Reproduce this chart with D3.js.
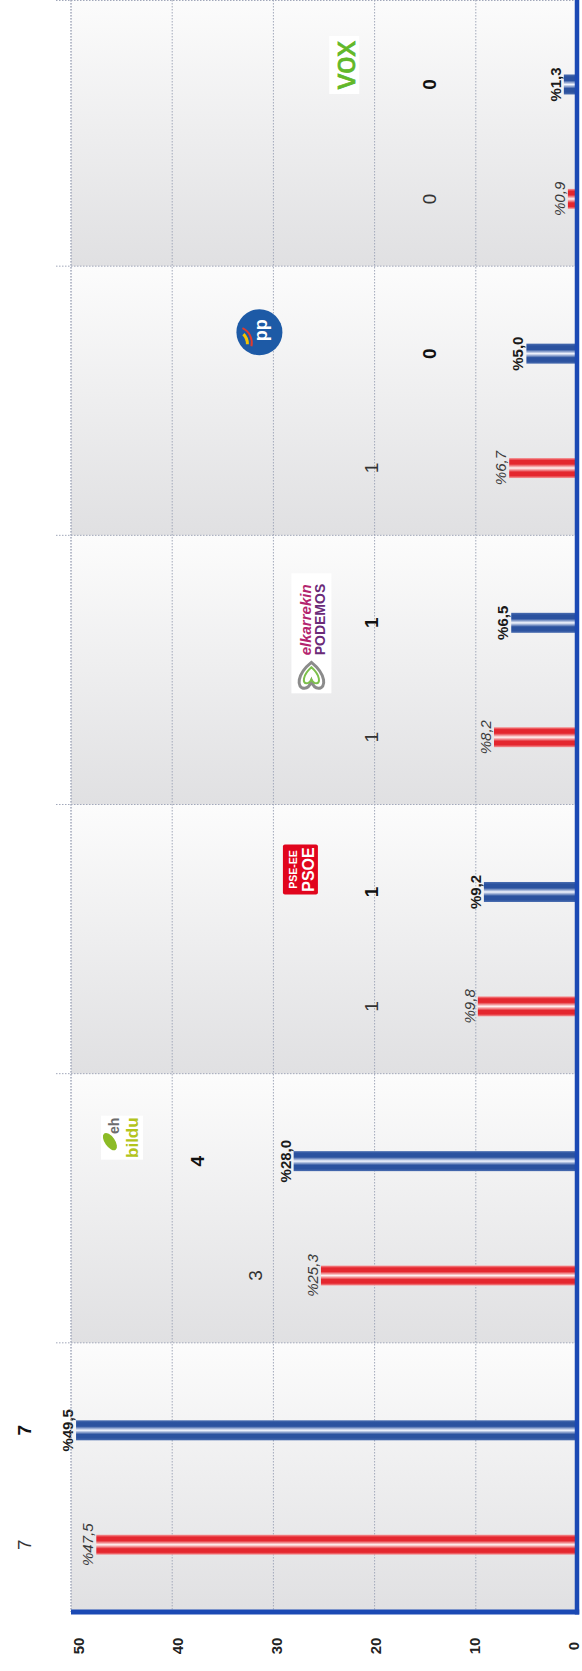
<!DOCTYPE html>
<html>
<head>
<meta charset="utf-8">
<script src="https://cdn.jsdelivr.net/npm/d3@7.9.0/dist/d3.min.js"></script>
<style>
  html, body { margin: 0; padding: 0; background: #fff; }
  svg { display: block; font-family: "Liberation Sans", Arial, sans-serif; }
</style>
</head>
<body>
<svg id="chart" width="582" height="1671"></svg>
<script>
// parties, bottom to top on the page
const parties = ['EAJ-PNV', 'EH Bildu', 'PSE-EE', 'Elkarrekin Podemos', 'PP', 'Vox'];
const years = ['2019', '2023'];
const pct2019 = [47.5, 25.3, 9.8, 8.2, 6.7, 0.9];
const pct2023 = [49.5, 28.0, 9.2, 6.5, 5.0, 1.3];
const seats2019 = [7, 3, 1, 1, 1, 0];
const seats2023 = [7, 4, 1, 1, 0, 0];
const valueTicks = [0, 10, 20, 30, 40, 50];

const W = 582, H = 1671;
const plotLeft = 71, plotRight = 577, plotBottom = 1612, plotTop = -3;

const svg = d3.select('#chart');
const defs = svg.append('defs');

const locale = d3.formatLocale({ decimal: ',', thousands: '.', grouping: [3], currency: ['', ''] });
const fmt = locale.format('.1f');

const x = d3.scaleLinear().domain([0, 50]).range([plotRight, plotLeft]);
const y = d3.scaleBand().domain(parties).range([plotBottom, plotTop]);
const bw = y.bandwidth();
const sub = d3.scalePoint().domain(years).range([bw * 0.75, bw * 0.325]);
// seat labels sit on their own (hidden) scale
const seatX = d3.scaleLinear().domain([0, 7]).range([x(14.6), x(54.6)]);
// tick labels are spread a little inside the grid
const tickX = d3.scaleLinear().domain([0, 50]).range([573, 78]);

const rows = parties.map((p, i) => ({
  party: p,
  values: [
    { year: '2019', pct: pct2019[i], seats: seats2019[i] },
    { year: '2023', pct: pct2023[i], seats: seats2023[i] }
  ]
}));

// gradients
const bandGrad = defs.append('linearGradient').attr('id', 'bandGrad')
  .attr('x1', 0).attr('y1', 0).attr('x2', 0).attr('y2', 1);
bandGrad.append('stop').attr('offset', '0%').attr('stop-color', '#fcfcfc');
bandGrad.append('stop').attr('offset', '100%').attr('stop-color', '#e0e0e2');

function barGradient(id, edge, main, mid) {
  const g = defs.append('linearGradient').attr('id', id)
    .attr('x1', 0).attr('y1', 0).attr('x2', 0).attr('y2', 1);
  [[0, edge], [0.12, main], [0.3, main], [0.5, mid], [0.7, main], [0.88, main], [1, edge]]
    .forEach(([o, c]) => g.append('stop').attr('offset', o).attr('stop-color', c));
}
barGradient('grad2019', '#f59a9c', '#e4262e', '#fff4f4');
barGradient('grad2023', '#4a6db0', '#2b529f', '#f4f7ff');

// band backgrounds
svg.append('g').selectAll('rect')
  .data(parties)
  .join('rect')
  .attr('x', plotLeft)
  .attr('y', d => y(d))
  .attr('width', plotRight - plotLeft)
  .attr('height', bw)
  .attr('fill', 'url(#bandGrad)');

// value grid (dotted)
svg.append('g').selectAll('line')
  .data(valueTicks.filter(t => t > 0))
  .join('line')
  .attr('x1', d => x(d)).attr('x2', d => x(d))
  .attr('y1', plotTop).attr('y2', plotBottom)
  .attr('stroke', '#a2a8ba').attr('stroke-width', 1)
  .attr('stroke-dasharray', '1.5,1.5');

// category separators
svg.append('g').selectAll('line')
  .data(parties)
  .join('line')
  .attr('x1', plotLeft - 15).attr('x2', plotRight)
  .attr('y1', d => Math.max(y(d), 0.5)).attr('y2', d => Math.max(y(d), 0.5))
  .attr('stroke', '#a2a8ba').attr('stroke-width', 1)
  .attr('stroke-dasharray', '1.5,1.5');

// bars
const groups = svg.append('g').selectAll('g')
  .data(rows)
  .join('g')
  .attr('transform', d => `translate(0,${y(d.party)})`);

groups.selectAll('rect')
  .data(d => d.values)
  .join('rect')
  .attr('x', d => x(d.pct))
  .attr('y', d => sub(d.year) - 10)
  .attr('width', d => x(0) - x(d.pct))
  .attr('height', 20)
  .attr('fill', d => `url(#grad${d.year})`);

// percent labels
groups.selectAll('text.pct')
  .data(d => d.values)
  .join('text')
  .attr('class', 'pct')
  .attr('transform', d => `translate(${x(d.pct) - 3},${sub(d.year)}) rotate(-90)`)
  .attr('text-anchor', 'middle')
  .attr('font-size', 15)
  .attr('font-style', d => d.year === '2019' ? 'italic' : 'normal')
  .attr('font-weight', d => d.year === '2019' ? 'normal' : 'bold')
  .attr('fill', d => d.year === '2019' ? '#3a3a3a' : '#1a1a1a')
  .text(d => '%' + fmt(d.pct));

// seat labels
groups.selectAll('text.seat')
  .data(d => d.values)
  .join('text')
  .attr('class', 'seat')
  .attr('transform', d => `translate(${seatX(d.seats)},${sub(d.year)}) rotate(-90)`)
  .attr('text-anchor', 'middle')
  .attr('dominant-baseline', 'central')
  .attr('font-size', 19)
  .attr('font-weight', d => d.year === '2019' ? 'normal' : 'bold')
  .attr('fill', d => d.year === '2019' ? '#333' : '#111')
  .text(d => d.seats);

// logos
function logoVox(g) {
  g.append('rect').attr('x', -29).attr('y', -15).attr('width', 58).attr('height', 30).attr('fill', '#fff');
  g.append('text').attr('text-anchor', 'middle').attr('dominant-baseline', 'central')
    .attr('font-size', 31).attr('font-weight', 'normal').attr('fill', '#62b82a')
    .attr('stroke', '#62b82a').attr('stroke-width', 0.8).text('vox');
}
function logoPP(g) {
  g.append('circle').attr('r', 23).attr('fill', '#1d5aa6');
  g.append('path').attr('d', 'M-12,-12 A14,14 0 0,0 -2,-16').attr('fill', 'none')
    .attr('stroke', '#f4c300').attr('stroke-width', 3);
  g.append('path').attr('d', 'M-14,-8 A16,16 0 0,0 4,-17').attr('fill', 'none')
    .attr('stroke', '#e03a2e').attr('stroke-width', 2);
  g.append('text').attr('x', 2).attr('y', 2).attr('text-anchor', 'middle').attr('dominant-baseline', 'central')
    .attr('font-size', 18).attr('font-weight', 'bold').attr('fill', '#fff').text('pp');
}
function logoPodemos(g) {
  g.append('rect').attr('x', -58).attr('y', -20).attr('width', 120).attr('height', 40).attr('fill', '#fff');
  g.append('path')
    .attr('d', 'M-39,12 C-54,0 -54,-14 -46,-14 C-42,-14 -40,-10 -39,-7 C-38,-10 -36,-14 -32,-14 C-24,-14 -24,0 -39,12 Z')
    .attr('fill', 'none').attr('stroke', '#8b8b8b').attr('stroke-width', 3)
    .attr('transform', 'rotate(-90,-39,0)');
  g.append('path')
    .attr('d', 'M-39,7 C-48,-1 -48,-9 -44,-9 C-42,-9 -40,-7 -39,-5 C-38,-7 -36,-9 -34,-9 C-30,-9 -30,-1 -39,7 Z')
    .attr('fill', 'none').attr('stroke', '#7cc04b').attr('stroke-width', 2)
    .attr('transform', 'rotate(-90,-39,0)');
  g.append('text').attr('x', -20).attr('y', 0).attr('font-size', 15).attr('font-weight', 'bold')
    .attr('font-style', 'italic').attr('fill', '#b3246e').text('elkarrekin');
  g.append('text').attr('x', -20).attr('y', 14).attr('font-size', 14).attr('font-weight', 'bold')
    .attr('fill', '#6a2a78').text('PODEMOS');
}
function logoPSOE(g) {
  g.append('rect').attr('x', -25).attr('y', -17.5).attr('width', 50).attr('height', 35)
    .attr('rx', 2).attr('fill', '#e1051d');
  g.append('text').attr('y', -7).attr('text-anchor', 'middle').attr('dominant-baseline', 'central')
    .attr('font-size', 10.5).attr('font-weight', 'bold').attr('fill', '#fff').text('PSE-EE');
  g.append('text').attr('y', 8).attr('text-anchor', 'middle').attr('dominant-baseline', 'central')
    .attr('font-size', 16).attr('font-weight', 'bold').attr('fill', '#fff').text('PSOE');
}
function logoBildu(g) {
  g.append('rect').attr('x', -22).attr('y', -21).attr('width', 44).attr('height', 42).attr('fill', '#fff');
  g.append('ellipse').attr('cx', -4).attr('cy', -12).attr('rx', 10).attr('ry', 5)
    .attr('transform', 'rotate(-35,-4,-12)').attr('fill', '#8cbb26');
  g.append('text').attr('x', 20).attr('y', -3).attr('text-anchor', 'end')
    .attr('font-size', 14).attr('font-weight', 'bold').attr('fill', '#6d6d6d').text('eh');
  g.append('text').attr('x', 0).attr('y', 11).attr('text-anchor', 'middle').attr('dominant-baseline', 'central')
    .attr('font-size', 17).attr('font-weight', 'bold').attr('fill', '#b3c41c').text('bildu');
}
const logos = {
  'EH Bildu': { draw: logoBildu, dx: -76, dy: 64 },
  'PSE-EE': { draw: logoPSOE, dx: -71, dy: 65 },
  'Elkarrekin Podemos': { draw: logoPodemos, dx: -60, dy: 100 },
  'PP': { draw: logoPP, dx: -112, dy: 66 },
  'Vox': { draw: logoVox, dx: -85, dy: 68 }
};
rows.forEach(r => {
  const logo = logos[r.party];
  if (!logo) return;
  const maxSeats = d3.max(r.values, v => v.seats);
  const lx = seatX(maxSeats) + logo.dx;
  const g = svg.append('g').attr('transform', `translate(${lx},${y(r.party) + logo.dy}) rotate(-90)`);
  logo.draw(g);
});

// left plot edge (dotted) and blue axes
svg.append('line')
  .attr('x1', plotLeft).attr('x2', plotLeft).attr('y1', plotTop).attr('y2', plotBottom)
  .attr('stroke', '#a2a8ba').attr('stroke-dasharray', '1.5,1.5');
svg.append('line')
  .attr('x1', x(0)).attr('x2', x(0)).attr('y1', plotTop).attr('y2', plotBottom + 2.5)
  .attr('stroke', '#1b49b4').attr('stroke-width', 4.5);
svg.append('line')
  .attr('x1', plotLeft).attr('x2', x(0) + 2.2).attr('y1', plotBottom).attr('y2', plotBottom)
  .attr('stroke', '#1b49b4').attr('stroke-width', 5);

// value tick labels
svg.append('g').selectAll('text')
  .data(valueTicks)
  .join('text')
  .attr('transform', d => `translate(${tickX(d)},1646) rotate(-90)`)
  .attr('text-anchor', 'middle')
  .attr('dominant-baseline', 'central')
  .attr('font-size', 15)
  .attr('font-weight', 'bold')
  .attr('fill', '#222')
  .text(d => d);
</script>
</body>
</html>
